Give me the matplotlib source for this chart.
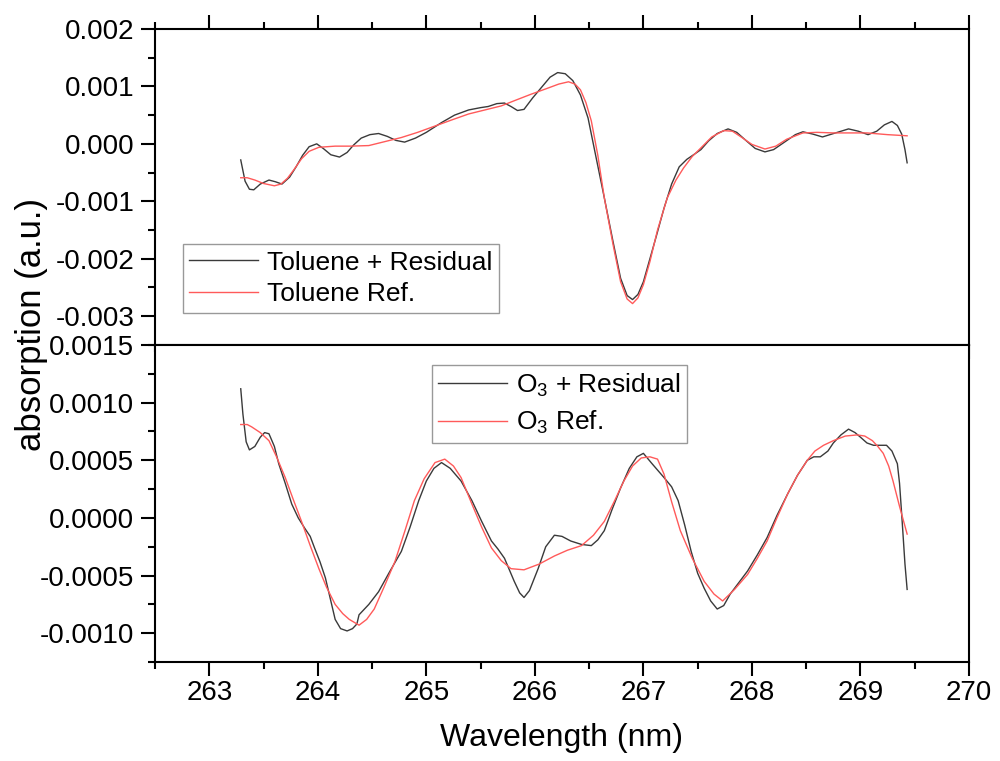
import matplotlib
matplotlib.use("Agg")
import matplotlib.pyplot as plt
from matplotlib.ticker import MultipleLocator, FormatStrFormatter

plt.rcParams["font.family"] = ["Liberation Sans", "DejaVu Sans"]
plt.rcParams["mathtext.default"] = "regular"

# Toluene panel (wavelength nm, absorption a.u.)
tol_res_x = [263.29, 263.33, 263.37, 263.41, 263.47, 263.55, 263.61, 263.67, 263.74, 263.80,
             263.86, 263.92, 263.99, 264.05, 264.12, 264.20, 264.27, 264.33, 264.40, 264.48,
             264.56, 264.64, 264.72, 264.80, 264.90, 265.00, 265.14, 265.26, 265.39, 265.50,
             265.57, 265.65, 265.72, 265.78, 265.84, 265.90, 265.98, 266.06, 266.14, 266.21,
             266.28, 266.35, 266.42, 266.49, 266.56, 266.64, 266.72, 266.79, 266.85, 266.90,
             266.95, 267.00, 267.06, 267.12, 267.19, 267.26, 267.33, 267.40, 267.47, 267.53,
             267.60, 267.68, 267.78, 267.86, 267.95, 268.03, 268.12, 268.20, 268.30, 268.40,
             268.47, 268.56, 268.65, 268.77, 268.89, 268.98, 269.07, 269.15, 269.22, 269.29,
             269.34, 269.38, 269.41, 269.43]
tol_res_y = [-0.00028, -0.00065, -0.00079, -0.00080, -0.00070, -0.00063, -0.00066, -0.00070, -0.00058, -0.00040,
             -0.00020, -0.00005, 0.00000, -0.00008, -0.00019, -0.00023, -0.00015, -0.00002, 0.00010, 0.00016,
             0.00018, 0.00013, 0.00006, 0.00003, 0.00010, 0.00020, 0.00037, 0.00050, 0.00059, 0.00063,
             0.00065, 0.00070, 0.00071, 0.00065, 0.00058, 0.00060, 0.00080, 0.00098, 0.00116, 0.00124,
             0.00122, 0.00110, 0.00085, 0.00045, -0.00020, -0.00094, -0.00170, -0.00234, -0.00264, -0.00271,
             -0.00262, -0.00240, -0.00200, -0.00160, -0.00112, -0.00070, -0.00040, -0.00027, -0.00018, -0.00010,
             0.00005, 0.00018, 0.00026, 0.00020, 0.00005, -0.00008, -0.00014, -0.00010, 0.00003, 0.00016,
             0.00021, 0.00017, 0.00012, 0.00019, 0.00026, 0.00022, 0.00016, 0.00022, 0.00033, 0.00039,
             0.00032, 0.00017, -0.00010, -0.00033]

tol_ref_x = [263.29, 263.35, 263.42, 263.50, 263.60, 263.66, 263.72, 263.78, 263.85, 263.92,
             264.01, 264.16, 264.30, 264.47, 264.62, 264.77, 264.92, 265.08, 265.24, 265.39,
             265.54, 265.69, 265.81, 265.96, 266.12, 266.22, 266.31, 266.37, 266.42, 266.47,
             266.52, 266.58, 266.64, 266.72, 266.79, 266.85, 266.90, 266.95, 267.00, 267.06,
             267.13, 267.22, 267.30, 267.37, 267.45, 267.53, 267.63, 267.74, 267.82, 267.90,
             268.00, 268.12, 268.22, 268.32, 268.47, 268.60, 268.75, 269.06, 269.25, 269.43]
tol_ref_y = [-0.00059, -0.00059, -0.00063, -0.00069, -0.00073, -0.00070, -0.00060, -0.00045, -0.00026, -0.00013,
             -0.00006, -0.00004, -0.00004, -0.00003, 0.00004, 0.00011, 0.00020, 0.00031, 0.00042, 0.00052,
             0.00059, 0.00066, 0.00075, 0.00086, 0.00097, 0.00104, 0.00108, 0.00104, 0.00094, 0.00072,
             0.00040, -0.00020, -0.00094, -0.00175, -0.00240, -0.00270, -0.00278, -0.00268, -0.00245, -0.00205,
             -0.00150, -0.00094, -0.00063, -0.00042, -0.00022, -0.00007, 0.00012, 0.00023, 0.00022, 0.00012,
             -0.00001, -0.00009, -0.00004, 0.00008, 0.00019, 0.00020, 0.00019, 0.00019, 0.00016, 0.00014]

# O3 panel
o3_res_x = [263.29, 263.31, 263.34, 263.37, 263.42, 263.47, 263.51, 263.55, 263.60, 263.64,
            263.70, 263.76, 263.82, 263.88, 263.93, 263.97, 264.02, 264.07, 264.12, 264.16,
            264.21, 264.27, 264.32, 264.36, 264.38, 264.47, 264.56, 264.66, 264.77, 264.85,
            264.93, 265.00, 265.07, 265.14, 265.22, 265.32, 265.42, 265.51, 265.60, 265.66,
            265.72, 265.81, 265.86, 265.90, 265.95, 266.03, 266.10, 266.18, 266.25, 266.33,
            266.43, 266.52, 266.58, 266.64, 266.71, 266.79, 266.87, 266.94, 267.00, 267.08,
            267.19, 267.26, 267.32, 267.38, 267.44, 267.50, 267.56, 267.62, 267.68, 267.74,
            267.80, 267.88, 267.96, 268.05, 268.14, 268.23, 268.33, 268.42, 268.51, 268.57,
            268.63, 268.70, 268.75, 268.82, 268.89, 268.95, 269.00, 269.06, 269.12, 269.18,
            269.24, 269.29, 269.34, 269.36, 269.38, 269.41, 269.43]
o3_res_y = [0.00112, 0.00090, 0.00066, 0.00059, 0.00062, 0.00070, 0.00074, 0.00073, 0.00062, 0.00047,
            0.00030, 0.00012, 0.00000, -0.00009, -0.00016, -0.00026, -0.00038, -0.00052, -0.00072, -0.00088,
            -0.00096, -0.00098, -0.00096, -0.00092, -0.00084, -0.00075, -0.00064, -0.00047, -0.00029, -0.00008,
            0.00015, 0.00032, 0.00043, 0.00048, 0.00043, 0.00032, 0.00015, -0.00003, -0.00020, -0.00027,
            -0.00035, -0.00055, -0.00065, -0.00069, -0.00063, -0.00044, -0.00025, -0.00015, -0.00016, -0.00020,
            -0.00023, -0.00024, -0.00019, -0.00011, 0.00007, 0.00026, 0.00043, 0.00053, 0.00056, 0.00047,
            0.00035, 0.00027, 0.00015, -0.00006, -0.00029, -0.00048, -0.00061, -0.00072, -0.00079, -0.00076,
            -0.00066, -0.00056, -0.00046, -0.00032, -0.00017, 0.00002, 0.00021, 0.00037, 0.00050, 0.00053,
            0.00053, 0.00058, 0.00065, 0.00072, 0.00077, 0.00074, 0.00070, 0.00065, 0.00063, 0.00063,
            0.00063, 0.00058, 0.00047, 0.00030, 0.00003, -0.00040, -0.00062]

o3_ref_x = [263.29, 263.35, 263.39, 263.47, 263.55, 263.62, 263.70, 263.77, 263.85, 263.93,
            264.01, 264.08, 264.16, 264.23, 264.29, 264.38, 264.45, 264.52, 264.61, 264.71,
            264.80, 264.89, 264.98, 265.08, 265.17, 265.25, 265.32, 265.42, 265.51, 265.60,
            265.69, 265.78, 265.90, 266.04, 266.18, 266.30, 266.43, 266.54, 266.64, 266.73,
            266.82, 266.90, 266.98, 267.06, 267.13, 267.19, 267.26, 267.34, 267.45, 267.56,
            267.65, 267.73, 267.84, 267.96, 268.05, 268.14, 268.23, 268.33, 268.42, 268.51,
            268.58, 268.66, 268.75, 268.86, 268.97, 269.04, 269.11, 269.16, 269.21, 269.26,
            269.30, 269.36, 269.43]
o3_ref_y = [0.00081, 0.00081, 0.00079, 0.00074, 0.00067, 0.00053, 0.00035, 0.00017, -0.00003, -0.00024,
            -0.00044, -0.00060, -0.00075, -0.00083, -0.00088, -0.00093, -0.00088, -0.00079, -0.00060, -0.00038,
            -0.00012, 0.00015, 0.00034, 0.00048, 0.00051, 0.00045, 0.00035, 0.00012, -0.00008, -0.00026,
            -0.00037, -0.00044, -0.00045, -0.00040, -0.00033, -0.00028, -0.00024, -0.00015, -0.00003, 0.00014,
            0.00032, 0.00045, 0.00052, 0.00053, 0.00051, 0.00038, 0.00014, -0.00011, -0.00035, -0.00055,
            -0.00066, -0.00072, -0.00062, -0.00049, -0.00035, -0.00020, 0.00000, 0.00021, 0.00037, 0.00050,
            0.00058, 0.00063, 0.00067, 0.00071, 0.00072, 0.00071, 0.00067, 0.00062, 0.00056, 0.00045,
            0.00032, 0.00010, -0.00014]

black = "#3a3a3a"
red = "#ff5a5a"

fig = plt.figure(figsize=(10, 7.61), dpi=100)
ax1 = fig.add_axes([0.155, 0.5467, 0.814, 0.4153])
ax2 = fig.add_axes([0.155, 0.130, 0.814, 0.4167])

ax1.plot(tol_res_x, tol_res_y, color=black, lw=1.0, label="Toluene + Residual")
ax1.plot(tol_ref_x, tol_ref_y, color=red, lw=1.0, label="Toluene Ref.")
ax2.plot(o3_res_x, o3_res_y, color=black, lw=1.0, label="O$_3$ + Residual")
ax2.plot(o3_ref_x, o3_ref_y, color=red, lw=1.0, label="O$_3$ Ref.")

for ax in (ax1, ax2):
    ax.set_xlim(262.5, 270)
    ax.xaxis.set_major_locator(MultipleLocator(1))
    ax.xaxis.set_minor_locator(MultipleLocator(0.5))
    for s in ax.spines.values():
        s.set_linewidth(1.5)
    ax.tick_params(which="both", direction="out", width=1.5, right=False)
    ax.tick_params(which="major", length=10)
    ax.tick_params(which="minor", length=5)
    ax.tick_params(axis="y", labelsize=20, pad=5)

ax1.set_ylim(-0.0035, 0.002)
ax1.yaxis.set_major_locator(MultipleLocator(0.001))
ax1.yaxis.set_minor_locator(MultipleLocator(0.0005))
ax1.yaxis.set_major_formatter(FormatStrFormatter("%.3f"))
ax1.tick_params(axis="x", which="both", top=True, bottom=True, labelbottom=False)

ax2.set_ylim(-0.00125, 0.0015)
ax2.yaxis.set_major_locator(MultipleLocator(0.0005))
ax2.yaxis.set_minor_locator(MultipleLocator(0.00025))
ax2.yaxis.set_major_formatter(FormatStrFormatter("%.4f"))
ax2.tick_params(axis="x", which="both", top=False, bottom=True, labelsize=20, pad=3)

leg1 = ax1.legend(loc="lower left", bbox_to_anchor=(0.034, 0.101), borderaxespad=0,
                  fontsize=19, frameon=True, fancybox=False, handlelength=2.6,
                  handletextpad=0.35, borderpad=0.25, labelspacing=0.3)
leg1.get_frame().set_edgecolor("#808080")
leg1.get_frame().set_linewidth(1.0)

leg2 = ax2.legend(loc="upper left", bbox_to_anchor=(0.340, 0.937), borderaxespad=0,
                  fontsize=19, frameon=True, fancybox=False, handlelength=2.6,
                  handletextpad=0.35, borderpad=0.25, labelspacing=0.4)
leg2.get_frame().set_edgecolor("#808080")
leg2.get_frame().set_linewidth(1.0)

fig.text(0.032, 0.574, "absorption (a.u.)", rotation=90, fontsize=25, ha="center", va="center")
fig.text(0.562, 0.030, "Wavelength (nm)", fontsize=23, ha="center", va="center")

fig.savefig("out.png", dpi=100)
